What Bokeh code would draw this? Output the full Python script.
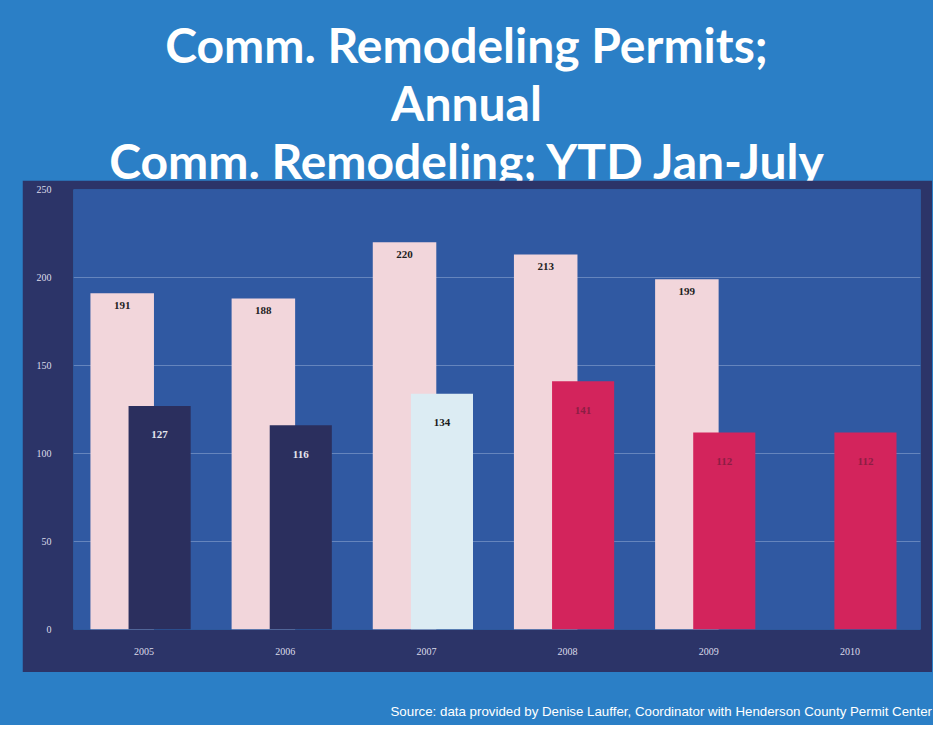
from bokeh.plotting import figure
from bokeh.models import ColumnDataSource, LabelSet, Div, FixedTicker
from bokeh.layouts import column
from bokeh.transform import dodge
from bokeh.embed import file_html
from bokeh.resources import INLINE

# ---- data ----
years = ["2005", "2006", "2007", "2008", "2009", "2010"]
annual_years = ["2005", "2006", "2007", "2008", "2009"]
annual_values = [191, 188, 220, 213, 199]
ytd_values = [127, 116, 134, 141, 112, 112]
ytd_colors = ["#2b2f5e", "#2b2f5e", "#dcecf3", "#d3245c", "#d3245c", "#d3245c"]
ytd_label_colors = ["#e6e6ee", "#e6e6ee", "#1a1a1a", "#8c1e44", "#8c1e44", "#8c1e44"]
y_ticks = [0, 50, 100, 150, 200, 250]
title_lines = ["Comm. Remodeling Permits;", "Annual", "Comm. Remodeling; YTD Jan-July"]

OUTER = "#2b7fc6"
FRAME = "#2c3468"
PLOT = "#3059a2"

src_a = ColumnDataSource(dict(year=annual_years, v=annual_values,
                              lbl=[str(v) for v in annual_values]))
src_y = ColumnDataSource(dict(year=years, v=ytd_values, col=ytd_colors,
                              lcol=ytd_label_colors,
                              lbl=[str(v) for v in ytd_values]))

p = figure(x_range=years, y_range=(0, 250), width=910, height=492,
           output_backend="svg", toolbar_location=None,
           min_border_left=51, min_border_right=12, min_border_top=9,
           min_border_bottom=43, margin=(0, 0, 0, 22))
p.border_fill_color = FRAME
p.background_fill_color = PLOT
p.outline_line_color = None

p.vbar(x=dodge("year", -0.155, range=p.x_range), top="v", width=0.45,
       source=src_a, fill_color="#f2d6db", line_color=None)
p.vbar(x=dodge("year", 0.11, range=p.x_range), top="v", width=0.44,
       source=src_y, fill_color="col", line_color=None)

la = LabelSet(x=dodge("year", -0.155, range=p.x_range), y="v", text="lbl",
              source=src_a, y_offset=-12, text_align="center",
              text_baseline="middle", text_font="Liberation Serif",
              text_font_style="bold", text_font_size="11px",
              text_color="#222222")
ly = LabelSet(x=dodge("year", 0.11, range=p.x_range), y="v", text="lbl",
              source=src_y, y_offset=-29, text_align="center",
              text_baseline="middle", text_font="Liberation Serif",
              text_font_style="bold", text_font_size="11px",
              text_color="lcol")
p.add_layout(la)
p.add_layout(ly)

p.xgrid.grid_line_color = None
p.ygrid.grid_line_color = "#c8d8f0"
p.ygrid.grid_line_alpha = 0.35
p.ygrid.ticker = FixedTicker(ticks=y_ticks)
p.yaxis.ticker = FixedTicker(ticks=y_ticks)

for ax in (p.xaxis[0], p.yaxis[0]):
    ax.axis_line_color = None
    ax.major_tick_line_color = None
    ax.minor_tick_line_color = None
    ax.major_label_text_color = "#dcdcea"
    ax.major_label_text_font = "Liberation Serif"
    ax.major_label_text_font_size = "10px"
p.xaxis.major_label_standoff = 12
p.yaxis.major_label_standoff = 16

title = Div(text=(
    "<div style='width:933px;text-align:center;color:#ffffff;"
    "font-family:Lato;font-weight:bold;font-size:48px;"
    "line-height:58px;padding-top:16px;'>"
    + "<br>".join(title_lines) + "</div>"),
    width=933, height=180, margin=(0, 0, 0, 0))

source = Div(text=(
    "<div style='width:932px;text-align:right;color:#ffffff;"
    "font-family:\"Liberation Sans\";font-size:13.3px;padding-top:31px;'>"
    "Source: data provided by Denise Lauffer, Coordinator with Henderson County Permit Center"
    "</div>"), width=933, height=53, margin=(0, 0, 0, 0))

layout = column(title, p, source, spacing=0,
                styles={"background-color": OUTER})
layout.width = 933
layout.height = 725

open("out.html", "w").write(file_html(layout, INLINE))
